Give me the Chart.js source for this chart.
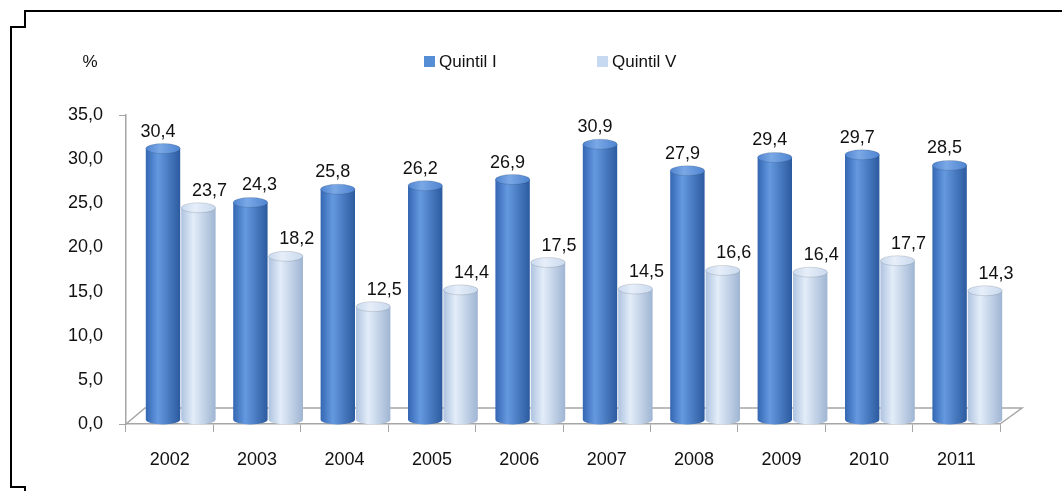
<!DOCTYPE html>
<html>
<head>
<meta charset="utf-8">
<script src="https://cdn.jsdelivr.net/npm/chart.js@4.4.1/dist/chart.umd.min.js"></script>
<style>
  html, body { margin: 0; padding: 0; background: #fff; }
  #wrap { width: 1062px; height: 491px; }
</style>
</head>
<body>
<div id="wrap"><canvas id="quintilChart"></canvas></div>
<script>
// Data
const years = ['2002', '2003', '2004', '2005', '2006', '2007', '2008', '2009', '2010', '2011'];
const quintil1 = [30.4, 24.3, 25.8, 26.2, 26.9, 30.9, 27.9, 29.4, 29.7, 28.5];
const quintil5 = [23.7, 18.2, 12.5, 14.4, 17.5, 14.5, 16.6, 16.4, 17.7, 14.3];
const seriesNames = ['Quintil I', 'Quintil V'];
const yMax = 35;
const yStep = 5;

const FONT = "'Liberation Sans', Arial, sans-serif";
const AXIS_GRAY = '#a6a6a6';

function fmt(v) {
    return v.toFixed(1).replace('.', ',');
}

// colours for the two cylinder styles
const looks = [
    { left: '#3466b2', mid: '#6499e0', right: '#2c5a9f', cap: '#4f84d0', capHi: '#7aa8e6', key: '#558ed5', labelDx: 6 },
    { left: '#aec3e0', mid: '#e3edf9', right: '#9fb5d3', cap: '#c9d9ee', capHi: '#e6eef9', key: '#c6d9f1', labelDx: 22 }
];

// 3D offset of the bars relative to the axis plane
const DX = 11, DY = -7, RY = 5;

function drawCylinder(ctx, x, top, bottom, w, look) {
    const left = x - w / 2, right = x + w / 2, rx = w / 2;
    const g = ctx.createLinearGradient(left, 0, right, 0);
    g.addColorStop(0, look.left);
    g.addColorStop(0.35, look.mid);
    g.addColorStop(1, look.right);
    ctx.beginPath();
    ctx.moveTo(left, top);
    ctx.lineTo(left, bottom);
    ctx.ellipse(x, bottom, rx, RY, 0, Math.PI, 0, true);
    ctx.lineTo(right, top);
    ctx.closePath();
    ctx.fillStyle = g;
    ctx.fill();

    const cg = ctx.createLinearGradient(left, 0, right, 0);
    cg.addColorStop(0, look.cap);
    cg.addColorStop(0.4, look.capHi);
    cg.addColorStop(1, look.cap);
    ctx.beginPath();
    ctx.ellipse(x, top, rx, RY, 0, 0, Math.PI * 2);
    ctx.fillStyle = cg;
    ctx.fill();
    ctx.strokeStyle = 'rgba(0,0,0,0.12)';
    ctx.lineWidth = 1;
    ctx.stroke();
}

const decorPlugin = {
    id: 'decor',
    beforeDraw(chart) {
        const ctx = chart.ctx;
        ctx.save();
        ctx.fillStyle = '#fff';
        ctx.fillRect(0, 0, chart.width, chart.height);
        // frame with notched corners
        ctx.strokeStyle = '#000';
        ctx.lineWidth = 2;
        ctx.beginPath();
        ctx.moveTo(1062, 11);
        ctx.lineTo(25, 11);
        ctx.lineTo(25, 27);
        ctx.lineTo(11, 27);
        ctx.lineTo(11, 487);
        ctx.lineTo(25, 487);
        ctx.lineTo(25, 491);
        ctx.stroke();

        // 3D floor
        const a = chart.chartArea;
        const y0 = chart.scales.y.getPixelForValue(0);
        ctx.strokeStyle = AXIS_GRAY;
        ctx.lineWidth = 1.5;
        ctx.beginPath();
        ctx.moveTo(a.left, y0);
        ctx.lineTo(a.left + 2 * DX - 3, y0 + 2 * DY - 2);
        ctx.lineTo(a.right + 2 * DX, y0 + 2 * DY - 2);
        ctx.lineTo(a.right, y0);
        ctx.stroke();
        ctx.restore();
    },
    beforeDatasetDraw() {
        return false;
    },
    afterDatasetsDraw(chart) {
        const ctx = chart.ctx;
        ctx.save();
        const metas = [chart.getDatasetMeta(0), chart.getDatasetMeta(1)];
        for (let i = 0; i < years.length; i++) {
            metas.forEach((meta, d) => {
                const el = meta.data[i];
                const p = el.getProps(['x', 'y', 'base', 'width'], true);
                drawCylinder(ctx, p.x + DX, p.y + DY, p.base + DY + 3, p.width - 1, looks[d]);
            });
        }
        // value labels, nudged right when they would crowd the previous label
        ctx.fillStyle = '#111';
        ctx.font = '18px ' + FONT;
        ctx.textAlign = 'center';
        ctx.textBaseline = 'alphabetic';
        let prev = null;
        for (let i = 0; i < years.length; i++) {
            metas.forEach((meta, d) => {
                const p = meta.data[i].getProps(['x', 'y'], true);
                const text = fmt(chart.data.datasets[d].data[i]);
                const w = ctx.measureText(text).width;
                let lx = p.x + looks[d].labelDx;
                const ly = p.y - 19;
                if (prev && Math.abs(prev.y - ly) < 22 && lx - w / 2 < prev.right + 12) {
                    lx += 14;
                }
                ctx.fillText(text, lx, ly);
                prev = { right: lx + w / 2, y: ly };
            });
        }
        ctx.restore();
    },
    afterDraw(chart) {
        const ctx = chart.ctx;
        ctx.save();
        ctx.font = '17px ' + FONT;
        ctx.fillStyle = '#111';
        ctx.textBaseline = 'middle';
        ctx.textAlign = 'center';
        ctx.fillText('%', 90, 62);
        // legend
        ctx.textAlign = 'left';
        const keys = [424, 597];
        keys.forEach((kx, d) => {
            ctx.fillStyle = looks[d].key;
            ctx.fillRect(kx, 56, 11, 11);
            ctx.fillStyle = '#111';
            ctx.fillText(seriesNames[d], kx + 15, 62);
        });
        ctx.restore();
    }
};

const ctx = document.getElementById('quintilChart').getContext('2d');
window.quintilChart = new Chart(ctx, {
    type: 'bar',
    data: {
        labels: years,
        datasets: [{
            label: seriesNames[0],
            data: quintil1,
            backgroundColor: looks[0].key
        }, {
            label: seriesNames[1],
            data: quintil5,
            backgroundColor: looks[1].key
        }]
    },
    options: {
        responsive: true,
        maintainAspectRatio: false,
        animation: false,
        categoryPercentage: 0.81,
        barPercentage: 1.0,
        layout: {
            padding: { top: 115, right: 62, left: 0, bottom: 0 }
        },
        plugins: {
            legend: { display: false },
            tooltip: { enabled: false }
        },
        scales: {
            x: {
                afterFit: function(scale) { scale.height = 67; },
                grid: {
                    drawOnChartArea: false,
                    tickLength: 8,
                    color: AXIS_GRAY
                },
                border: { color: AXIS_GRAY, width: 1.5 },
                ticks: {
                    color: '#111',
                    padding: 17,
                    font: { family: FONT, size: 18 }
                }
            },
            y: {
                min: 0,
                max: yMax,
                afterFit: function(scale) { scale.width = 126; },
                grid: {
                    drawOnChartArea: false,
                    tickLength: 7,
                    color: function(c) {
                        return (c.tick && (c.tick.value === 0 || c.tick.value === yMax)) ? AXIS_GRAY : 'rgba(0,0,0,0)';
                    }
                },
                border: { color: AXIS_GRAY, width: 1.5 },
                ticks: {
                    stepSize: yStep,
                    color: '#111',
                    padding: 16,
                    font: { family: FONT, size: 18 },
                    callback: function(value) {
                        return fmt(value);
                    }
                }
            }
        }
    },
    plugins: [decorPlugin]
});
</script>
</body>
</html>
